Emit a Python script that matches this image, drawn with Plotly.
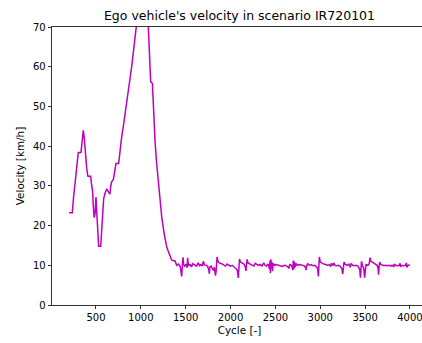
import plotly.graph_objects as go

# Cycle / velocity samples
cycle_start = [200, 236, 250, 270, 290, 303, 333, 345, 359, 370, 385, 397, 410, 441, 450, 463,
               470, 480, 490, 500, 510, 520, 530, 553, 565, 575, 586, 600, 619, 640, 656, 665,
               675, 694, 705, 723, 753, 768, 785, 805, 830, 855, 880, 898, 920, 946, 975, 1010,
               1045, 1070, 1084, 1095, 1110, 1129, 1140, 1158, 1175, 1195, 1215, 1233, 1260,
               1289, 1310, 1325, 1344, 1381]
vel_start = [23.2, 23.2, 27.0, 31.5, 35.5, 38.4, 38.4, 41.0, 44.0, 42.0, 37.0, 34.4, 32.4, 32.4, 30.5, 28.5,
             25.0, 22.0, 23.0, 27.2, 23.0, 17.0, 14.8, 14.8, 20.0, 25.5, 26.8, 28.0, 29.2, 28.5, 27.9, 30.0,
             31.0, 31.6, 33.0, 35.6, 35.6, 39.0, 42.0, 45.0, 49.5, 54.0, 57.1, 60.0, 64.5, 69.9, 75.0, 79.0,
             77.0, 73.0, 69.9, 64.0, 56.2, 55.8, 49.0, 41.5, 36.0, 31.4, 26.0, 22.2, 18.0,
             14.6, 13.3, 12.5, 11.3, 11.1]

cycle_tail = [1400, 1420, 1440, 1455, 1462, 1470, 1478, 1490, 1505, 1515, 1522, 1530, 1550, 1565, 1580,
              1600, 1620, 1640, 1655, 1670, 1685, 1697, 1710, 1730, 1745, 1758, 1764, 1770, 1785, 1800,
              1812, 1820, 1832, 1840, 1850, 1860, 1875, 1900, 1920, 1945, 1960, 1980, 2000, 2020, 2040,
              2060, 2075, 2087, 2095, 2100, 2110, 2130, 2150, 2165, 2172, 2178, 2185, 2195, 2215, 2240,
              2260, 2275, 2290, 2310, 2330, 2350, 2370, 2385, 2400, 2420, 2435, 2440, 2445, 2450, 2455,
              2460, 2468, 2475, 2490, 2510, 2530, 2550, 2575, 2600, 2620, 2640, 2650, 2660, 2680, 2695,
              2700, 2705, 2712, 2720, 2730, 2745, 2770, 2800, 2820, 2835, 2842, 2848, 2860, 2880, 2900,
              2920, 2940, 2960, 2972, 2979, 2985, 2990, 3000, 3020, 3040, 3060, 3080, 3100, 3115, 3125,
              3140, 3150, 3165, 3180, 3200, 3220, 3240, 3251, 3258, 3265, 3280, 3300, 3320, 3335, 3345,
              3360, 3380, 3400, 3420, 3440, 3448, 3453, 3460, 3470, 3485, 3495, 3502, 3510, 3530, 3545,
              3555, 3565, 3580, 3600, 3620, 3635, 3645, 3650, 3656, 3662, 3675, 3690, 3710, 3730, 3750,
              3770, 3790, 3800, 3820, 3825, 3840, 3860, 3880, 3890, 3895, 3910, 3930, 3950, 3960, 3965,
              3980, 4000]
vel_tail = [10.0, 10.3, 9.6, 7.2, 9.5, 12.0, 10.2, 9.8, 10.3, 9.4, 11.9, 10.0, 10.2, 9.6, 10.4,
            10.0, 9.8, 10.6, 9.9, 10.2, 9.8, 11.0, 10.1, 10.0, 9.7, 8.8, 7.9, 9.6, 9.8, 9.0,
            8.8, 9.5, 7.4, 8.6, 12.1, 11.0, 10.6, 10.4, 10.2, 9.8, 10.3, 10.0, 9.8, 10.0, 9.6,
            9.3, 8.8, 6.8, 9.0, 11.6, 10.8, 10.5, 10.3, 9.6, 8.6, 10.0, 11.5, 10.6, 10.3, 10.0,
            9.8, 10.5, 10.3, 10.0, 10.2, 9.8, 10.6, 10.0, 9.8, 10.3, 9.0, 11.2, 8.0, 11.5, 9.5,
            10.8, 8.5, 10.5, 10.0, 10.2, 10.0, 9.8, 9.7, 10.0, 9.9, 9.6, 9.2, 10.2, 10.0, 8.8,
            11.2, 9.0, 10.9, 9.5, 10.5, 10.0, 10.2, 10.0, 9.9, 9.5, 8.8, 9.8, 10.4, 10.0, 10.1,
            9.9, 10.0, 9.6, 9.0, 7.2, 9.5, 12.1, 10.8, 10.5, 10.3, 10.2, 10.0, 10.1, 9.8, 10.5,
            9.9, 10.6, 10.0, 9.9, 10.0, 9.8, 9.2, 7.8, 9.5, 10.8, 10.2, 10.0, 10.3, 9.5, 10.5,
            10.0, 9.9, 10.0, 9.8, 9.0, 6.9, 9.5, 11.0, 10.0, 9.2, 6.9, 9.0, 10.2, 10.0, 10.3,
            11.9, 11.0, 10.8, 10.5, 10.3, 10.0, 9.2, 7.6, 9.5, 10.8, 10.2, 10.0, 9.9, 10.0, 9.9,
            10.0, 9.8, 10.0, 9.7, 10.3, 10.0, 9.9, 10.0, 10.5, 9.6, 10.0, 9.9, 10.0, 10.6, 9.5,
            10.0, 10.1]

cycles = cycle_start + cycle_tail
velocity = vel_start + vel_tail

x_ticks = [500, 1000, 1500, 2000, 2500, 3000, 3500, 4000]
y_ticks = [0, 10, 20, 30, 40, 50, 60, 70]

FONT = "DejaVu Sans"

# the axes box extends slightly past the visible window like the reference
W, H = 427, 343

fig = go.Figure()
fig.add_trace(go.Scatter(x=cycles, y=velocity, mode="lines",
                         line=dict(color="#bf00bf", width=1.5), showlegend=False))

fig.update_layout(
    width=W, height=H,
    margin=dict(l=52, r=0, t=27, b=38, autoexpand=False),
    paper_bgcolor="white", plot_bgcolor="white",
    font=dict(family=FONT, size=10.4, color="black"),
    title=dict(text="Ego vehicle's velocity in scenario IR720101",
               font=dict(family=FONT, size=12.5, color="black"),
               x=0.5, xref="paper", xanchor="center",
               y=1 - 15.5 / H, yref="container", yanchor="middle", automargin=False),
)
fig.update_xaxes(range=[10, 4190], tickvals=x_ticks, ticks="outside", ticklen=3.5,
                 tickwidth=0.8, tickcolor="black", showline=True, linecolor="black",
                 linewidth=0.8, mirror=True, showgrid=False, zeroline=False, automargin=False,
                 ticklabeloverflow="allow", tickfont=dict(size=10),
                 title=dict(text="Cycle [-]", standoff=4, font=dict(size=10.4)))
fig.update_yaxes(range=[0, 70], tickvals=y_ticks, ticks="outside", ticklen=3.5,
                 tickwidth=0.8, tickcolor="black", showline=True, linecolor="black",
                 linewidth=0.8, mirror=False, showgrid=False, zeroline=False, automargin=False,
                 tickfont=dict(size=10),
                 title=dict(text="Velocity [km/h]", standoff=6, font=dict(size=10.4)))

page_js = ("document.body.style.margin='0px';"
           "document.body.style.overflow='hidden';"
           "document.documentElement.style.overflow='hidden';")

fig.write_html("out.html", post_script=page_js,
               config={"displayModeBar": False, "staticPlot": True})
